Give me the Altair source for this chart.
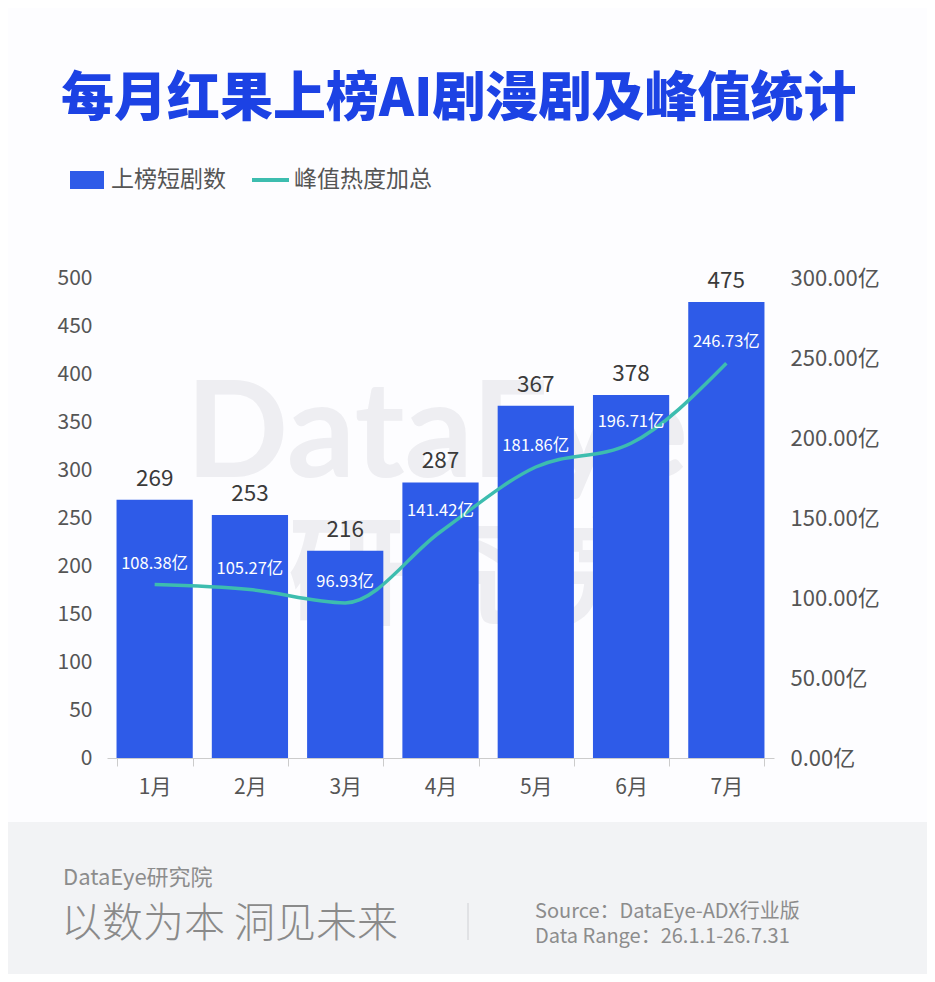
import altair as alt
import pandas as pd

months = ["1月", "2月", "3月", "4月", "5月", "6月", "7月"]
counts = [269, 253, 216, 287, 367, 378, 475]
heat = [108.38, 105.27, 96.93, 141.42, 181.86, 196.71, 246.73]

title_text = "每月红果上榜AI剧漫剧及峰值统计"
legend_bar = "上榜短剧数"
legend_line = "峰值热度加总"
footer_brand = "DataEye研究院"
footer_slogan = "以数为本 洞见未来"
footer_source = "Source：DataEye-ADX行业版"
footer_range = "Data Range：26.1.1-26.7.31"

FONT = "Noto Sans CJK SC"
BLUE = "#2e5be8"
TEAL = "#3dbdaf"

df = pd.DataFrame({
    "month": months,
    "count": counts,
    "heat": heat,
    "heat_label": [f"{v:.2f}亿" for v in heat],
})
one = pd.DataFrame({"k": [0]})

xenc = alt.X("month:N", sort=months, title=None,
             scale=alt.Scale(paddingInner=0.2, paddingOuter=0.1),
             axis=alt.Axis(labelAngle=0, labelFontSize=21, labelColor="#555555",
                           labelFont=FONT, domainColor="#cccccc", tickColor="#cccccc",
                           tickSize=8, tickBand="extent", labelPadding=10, grid=False))

yleft = alt.Y("count:Q", title=None,
              scale=alt.Scale(domain=[0, 500], nice=False),
              axis=alt.Axis(orient="left", values=list(range(0, 501, 50)),
                            labelFontSize=21, labelColor="#555555", labelFont=FONT,
                            domain=False, ticks=False, grid=False, labelPadding=15))

yright = alt.Y("heat:Q", title=None,
               scale=alt.Scale(domain=[0, 300], nice=False),
               axis=alt.Axis(orient="right", values=list(range(0, 301, 50)),
                             labelExpr="format(datum.value, '.2f') + '亿'",
                             labelFontSize=22, labelColor="#555555", labelFont=FONT,
                             domain=False, ticks=False, grid=False, labelPadding=16))

base = alt.Chart(df)

bars = base.mark_bar(color=BLUE).encode(x=xenc, y=yleft)
bar_text = base.mark_text(baseline="bottom", dy=-9, fontSize=22.5, color="#3a3a3a",
                          font=FONT).encode(x=xenc, y=yleft, text="count:Q")
bar_layer = alt.layer(bars, bar_text)

line = base.mark_line(color=TEAL, strokeWidth=3.5, interpolate="monotone").encode(
    x=xenc, y=yright)
line_text = base.mark_text(baseline="bottom", dy=-13, fontSize=16.5, color="white",
                           font=FONT).encode(x=xenc, y=yright, text="heat_label:N")
line_layer = alt.layer(line, line_text)

dec = alt.Chart(one)

footer_bg = dec.mark_rect(color="#f2f3f5").encode(
    x=alt.value(-110), x2=alt.value(840), y=alt.value(544), y2=alt.value(710))

wm1 = dec.mark_text(text="DataEye", fontSize=135, fontWeight="bold", color="#eeeef2",
                    font="Lato", align="center", baseline="middle").encode(
    x=alt.value(330), y=alt.value(158))
wm2 = dec.mark_text(text="研究院", fontSize=118, fontWeight="bold", color="#eeeef2",
                    font=FONT, align="center", baseline="middle").encode(
    x=alt.value(358), y=alt.value(302))

title = dec.mark_text(text=title_text, fontSize=53, fontWeight=900, color="#1c42e4",
                      font=FONT, align="left", baseline="middle").encode(
    x=alt.value(-46), y=alt.value(-178))

leg_rect = dec.mark_rect(color=BLUE).encode(
    x=alt.value(-37), x2=alt.value(-3), y=alt.value(-107), y2=alt.value(-89))
leg_t1 = dec.mark_text(text=legend_bar, fontSize=23, color="#555555", font=FONT,
                       align="left", baseline="middle").encode(
    x=alt.value(4), y=alt.value(-98))
leg_line = dec.mark_rule(color=TEAL, strokeWidth=4).encode(
    x=alt.value(145), x2=alt.value(182), y=alt.value(-98))
leg_t2 = dec.mark_text(text=legend_line, fontSize=23, color="#555555", font=FONT,
                       align="left", baseline="middle").encode(
    x=alt.value(187), y=alt.value(-98))

f1 = dec.mark_text(text=footer_brand, fontSize=22, color="#8c8c8c", font=FONT,
                   align="left", baseline="middle").encode(x=alt.value(-44), y=alt.value(600))
f2 = dec.mark_text(text=footer_slogan, fontSize=41, color="#8a8a8a", font=FONT,
                   fontWeight=300, align="left", baseline="middle").encode(
    x=alt.value(-46), y=alt.value(647))
f_div = dec.mark_rule(color="#cfd0d4", strokeWidth=1).encode(
    x=alt.value(361), y=alt.value(625), y2=alt.value(662))
f3 = dec.mark_text(text=footer_source, fontSize=20, color="#8c8c8c", font=FONT,
                   align="left", baseline="middle").encode(x=alt.value(428), y=alt.value(634))
f4 = dec.mark_text(text=footer_range, fontSize=20, color="#8c8c8c", font=FONT,
                   align="left", baseline="middle").encode(x=alt.value(428), y=alt.value(659))

chart = alt.layer(
    footer_bg, wm1, wm2, bar_layer, line_layer,
    title, leg_rect, leg_t1, leg_line, leg_t2, f1, f2, f_div, f3, f4
).resolve_scale(y="independent").properties(
    width=667, height=480,
    padding={"left": 99, "top": 270, "right": 153, "bottom": 216},
    autosize=alt.AutoSizeParams(type="none"),
    background="#fdfdff",
).configure_view(stroke=None)

chart.save("out.html", embed_options={"renderer": "svg", "actions": False})
